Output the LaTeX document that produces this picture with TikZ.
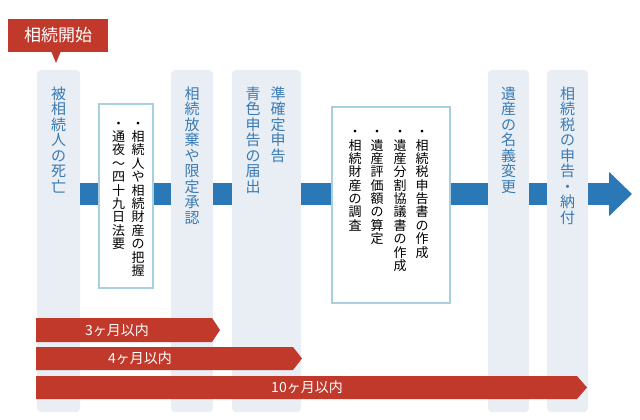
\documentclass[tikz,border=0pt]{standalone}
\usepackage{fontspec}
\setmainfont{Noto Sans CJK JP}
\usepackage{xcolor}
\usetikzlibrary{arrows.meta}
\definecolor{colbg}{HTML}{E9EDF4}
\definecolor{flowblue}{HTML}{2B78B7}
\definecolor{labelblue}{HTML}{3A7BB3}
\definecolor{deadline}{HTML}{C0392B}
\definecolor{boxline}{HTML}{A7CFE0}
\newcommand\tateaux[1]{\ifx\relax#1\else\hbox to 1em{\hss\vrule height .88em depth .12em width 0pt#1\hss}\expandafter\tateaux\fi}
\newcommand\tate[1]{\vbox{\baselineskip=1.03em\lineskiplimit=-20pt\tateaux#1\relax}}

\begin{document}
\begin{tikzpicture}[x=1pt, y=-1pt,
        col/.style={rectangle, rounded corners=4pt, fill=colbg, inner sep=0pt},
        memo/.style={rectangle, draw=boxline, line width=1.5pt, fill=white, inner sep=0pt},
        coltext/.style={anchor=north, inner sep=0pt, text=labelblue, font=\fontsize{15}{15}\selectfont},
        memotext/.style={anchor=north, inner sep=0pt, text=black, font=\fontsize{13}{13}\selectfont},
        flowbar/.style={line width=22pt, draw=flowblue},
        redbar/.style={fill=deadline},
        bartext/.style={text=white, inner sep=0pt, font=\fontsize{14}{14}\selectfont}]
                \useasboundingbox (0, 0) rectangle (640, 420);

                \node[col, minimum width=43pt, minimum height=342pt] (death) at (58.5, 241) {};
                \node[col, minimum width=42pt, minimum height=342pt] (renounce) at (192, 241) {};
                \node[col, minimum width=69pt, minimum height=342pt] (final) at (266.5, 241) {};
                \node[col, minimum width=41pt, minimum height=342pt] (transfer) at (508.5, 241) {};
                \node[col, minimum width=41pt, minimum height=342pt] (pay) at (567.5, 241) {};
                \node[memo, minimum width=54pt, minimum height=184pt] (memoa) at (126, 196) {};
                \node[memo, minimum width=118pt, minimum height=196pt] (memob) at (391, 205) {};

                \node[coltext] (deathtext) at (58.5, 86) {\tate{被相続人の死亡}};
                \node[coltext] (renouncetext) at (192, 86) {\tate{相続放棄や限定承認}};
                \node[coltext] (finaltext) at (278, 86) {\tate{準確定申告}};
                \node[coltext] (bluetext) at (253, 86) {\tate{青色申告の届出}};
                \node[coltext] (transfertext) at (508.5, 86) {\tate{遺産の名義変更}};
                \node[coltext] (paytext) at (567.5, 86) {\tate{相続税の申告・納付}};

                \node[memotext] (memoa1) at (138, 116.5) {\tate{・相続人や相続財産の把握}};
                \node[memotext] (memoa2) at (118.5, 116.5) {\tate{・通夜～四十九日法要}};
                \node[memotext] (memob1) at (422, 125) {\tate{・相続税申告書の作成}};
                \node[memotext] (memob2) at (400, 125) {\tate{・遺産分割協議書の作成}};
                \node[memotext] (memob3) at (377, 125) {\tate{・遺産評価額の算定}};
                \node[memotext] (memob4) at (355, 125) {\tate{・相続財産の調査}};

                \coordinate (flow) at (0, 194);
                \coordinate (flowend) at (632, 194);
                \draw[flowbar] (death.east |- flow) -- (memoa.west |- flow);
                \draw[flowbar] (memoa.east |- flow) -- (renounce.west |- flow);
                \draw[flowbar] (renounce.east |- flow) -- (final.west |- flow);
                \draw[flowbar] (final.east |- flow) -- (memob.west |- flow);
                \draw[flowbar] (memob.east |- flow) -- (transfer.west |- flow);
                \draw[flowbar] (transfer.east |- flow) -- (pay.west |- flow);
                \draw[flowbar, -{Triangle[length=23pt, width=43pt]}] (pay.east |- flow) -- (flowend);

                \fill[deadline] (8, 19) rectangle (108, 52);
                \fill[deadline] (51, 51) -- (61, 51) -- (56, 63) -- cycle;
                \node[text=white, inner sep=0pt, font=\fontsize{17}{17}\selectfont] (start) at (58, 35.5) {相続開始};

                \path[redbar] (36, 318) -- (212, 318) -- (220, 330) -- (212, 342) -- (36, 342) -- cycle;
                \path[redbar] (36, 347) -- (293, 347) -- (302, 358.5) -- (293, 370) -- (36, 370) -- cycle;
                \path[redbar] (36, 376) -- (577, 376) -- (587, 387.5) -- (577, 399) -- (36, 399) -- cycle;
                \node[bartext] (three) at (117, 330) {3ヶ月以内};
                \node[bartext] (four) at (140, 358.5) {4ヶ月以内};
                \node[bartext] (ten) at (307, 387.5) {10ヶ月以内};

            \end{tikzpicture}
\end{document}
